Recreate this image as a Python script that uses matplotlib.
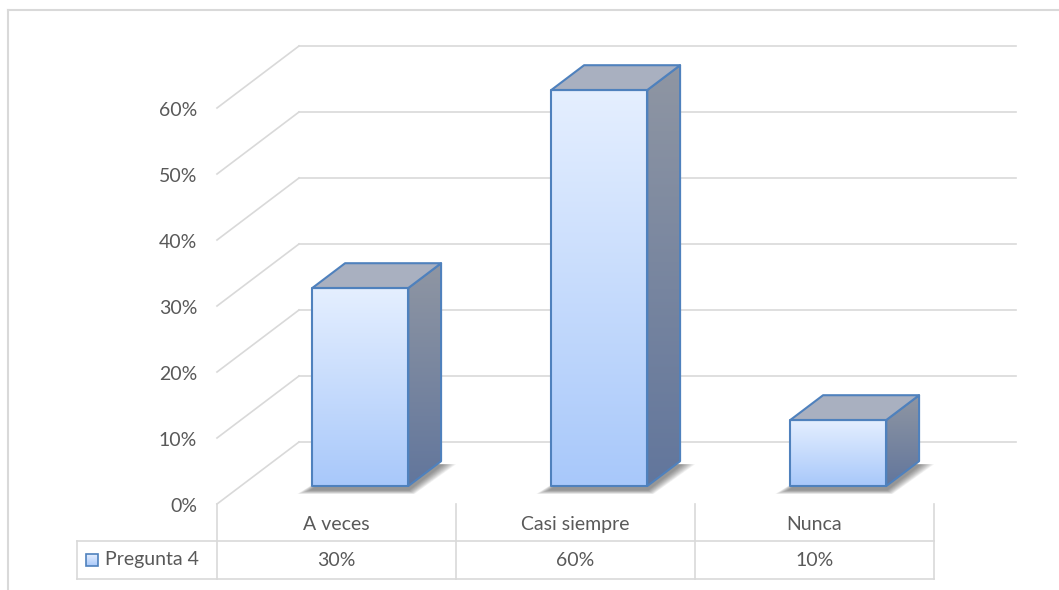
import numpy as np
import matplotlib.pyplot as plt
from matplotlib.patches import Polygon
from matplotlib.colors import LinearSegmentedColormap

categories = ['A veces', 'Casi siempre', 'Nunca']
values = [0.30, 0.60, 0.10]
series_name = 'Pregunta 4'
y_ticks = [0.0, 0.1, 0.2, 0.3, 0.4, 0.5, 0.6]

plt.rcParams['font.family'] = ['Lato', 'DejaVu Sans']
text_color = '#595959'
grid_color = '#d9d9d9'
edge_color = '#4f81bd'
fs = 14

W, H = 1059, 590
fig = plt.figure(figsize=(W / 100, H / 100), dpi=100)
ax = fig.add_axes([0, 0, 1, 1])

# x: one unit per category column, y: value scale; origin at the front-left floor corner
col_px, unit_px = 239, 660
x0_px, y0_px = 217, 86


def set_limits():
    ax.set_xlim(-x0_px / col_px, (W - x0_px) / col_px)
    ax.set_ylim(-y0_px / unit_px, (H - y0_px) / unit_px)


set_limits()
ax.axis('off')


def px(dx=0, dy=0):
    # pixel offsets -> data offsets
    return dx / col_px, dy / unit_px


# depth of the floor and the bar slot within it
DX, DY = px(82, 62)
f0, f1 = 0.29, 0.69
bar_w = px(96)[0]
n = len(categories)

# walls: back gridlines and left-wall diagonals
for v in y_ticks:
    ax.plot([0, DX], [v, v + DY], color=grid_color, lw=1.2, zorder=1)
    ax.plot([DX, n + DX], [v + DY, v + DY], color=grid_color, lw=1.2, zorder=1)
    ax.text(px(-20)[0], v - px(0, 3)[1], f'{v:.0%}', ha='right', va='center',
            fontsize=fs, color=text_color)

front_cmap = LinearSegmentedColormap.from_list('front', ['#a8c8fa', '#e5efff'])
side_cmap = LinearSegmentedColormap.from_list('side', ['#62769c', '#8f96a3'])
grad = np.linspace(0, 1, 256).reshape(-1, 1)

for i, v in enumerate(values):
    xl = i + 0.5 + f0 * DX - bar_w / 2
    xr = xl + bar_w
    yb = f0 * DY
    yt = yb + v
    ddx, ddy = (f1 - f0) * DX, (f1 - f0) * DY

    # soft shadow around the footprint
    for k in range(10):
        ex, ey = px(15 - 1.4 * k, 5 - 0.4 * k)
        sx, sy = px(0, -3)
        shadow = [(xl - ex, yb + sy - ey), (xr + ex * 0.4, yb + sy - ey),
                  (xr + ddx + ex, yb + ddy + sy), (xl + ddx, yb + ddy + sy)]
        ax.add_patch(Polygon(shadow, closed=True, facecolor='#202020',
                             edgecolor='none', alpha=0.06, zorder=2))

    # side face
    side_pts = [(xr, yb), (xr + ddx, yb + ddy), (xr + ddx, yt + ddy), (xr, yt)]
    side = Polygon(side_pts, closed=True, facecolor='none', edgecolor='none')
    ax.add_patch(side)
    im = ax.imshow(grad, cmap=side_cmap, origin='lower', aspect='auto',
                   extent=[xr, xr + ddx, yb, yt + ddy], zorder=3)
    im.set_clip_path(side)
    ax.add_patch(Polygon(side_pts, closed=True, facecolor='none', edgecolor=edge_color,
                         lw=1.5, joinstyle='round', zorder=5))

    # top face
    ax.add_patch(Polygon([(xl, yt), (xr, yt), (xr + ddx, yt + ddy), (xl + ddx, yt + ddy)],
                         closed=True, facecolor='#a9b0c0', edgecolor=edge_color,
                         lw=1.5, joinstyle='round', zorder=5))

    # front face
    ax.imshow(grad, cmap=front_cmap, origin='lower', aspect='auto',
              extent=[xl, xr, yb, yt], zorder=4)
    ax.add_patch(Polygon([(xl, yb), (xr, yb), (xr, yt), (xl, yt)], closed=True,
                         facecolor='none', edgecolor=edge_color, lw=1.5,
                         joinstyle='round', zorder=6))

set_limits()

# data table under the plot
row1 = px(0, -37)[1]
row2 = px(0, -75)[1]
leg_x = px(-140)[0]
for i in range(n + 1):
    ax.plot([i, i], [0, row2], color=grid_color, lw=1.2, zorder=1)
ax.plot([leg_x, n], [row1, row1], color=grid_color, lw=1.2, zorder=1)
ax.plot([leg_x, n], [row2, row2], color=grid_color, lw=1.2, zorder=1)
ax.plot([leg_x, leg_x], [row1, row2], color=grid_color, lw=1.2, zorder=1)

for i, (c, v) in enumerate(zip(categories, values)):
    ax.text(i + 0.5, row1 / 2 - px(0, 2)[1], c, ha='center', va='center',
            fontsize=fs, color=text_color)
    ax.text(i + 0.5, (row1 + row2) / 2, f'{v:.0%}', ha='center', va='center',
            fontsize=fs, color=text_color)

# legend key in the first cell
kx0, ky0 = px(-131)[0], px(0, -62)[1]
kw, kh = px(12)[0], px(0, 12)[1]
key_pts = [(kx0, ky0), (kx0 + kw, ky0), (kx0 + kw, ky0 + kh), (kx0, ky0 + kh)]
key = Polygon(key_pts, closed=True, facecolor='none', edgecolor='none')
ax.add_patch(key)
kim = ax.imshow(grad, cmap=front_cmap, origin='lower', aspect='auto',
                extent=[kx0, kx0 + kw, ky0, ky0 + kh], zorder=4)
kim.set_clip_path(key)
ax.add_patch(Polygon(key_pts, closed=True, facecolor='none', edgecolor=edge_color,
                     lw=1.2, zorder=5))
ax.text(px(-112)[0], (row1 + row2) / 2, series_name, ha='left', va='center',
        fontsize=fs, color=text_color)

set_limits()

# chart area border (left and top edges)
fig.add_artist(plt.Line2D([7.5 / W, 7.5 / W], [0, 1 - 10 / H], color=grid_color, lw=1.5))
fig.add_artist(plt.Line2D([7.5 / W, 1], [1 - 10 / H, 1 - 10 / H], color=grid_color, lw=1.5))

fig.savefig('out.png', dpi=100)
